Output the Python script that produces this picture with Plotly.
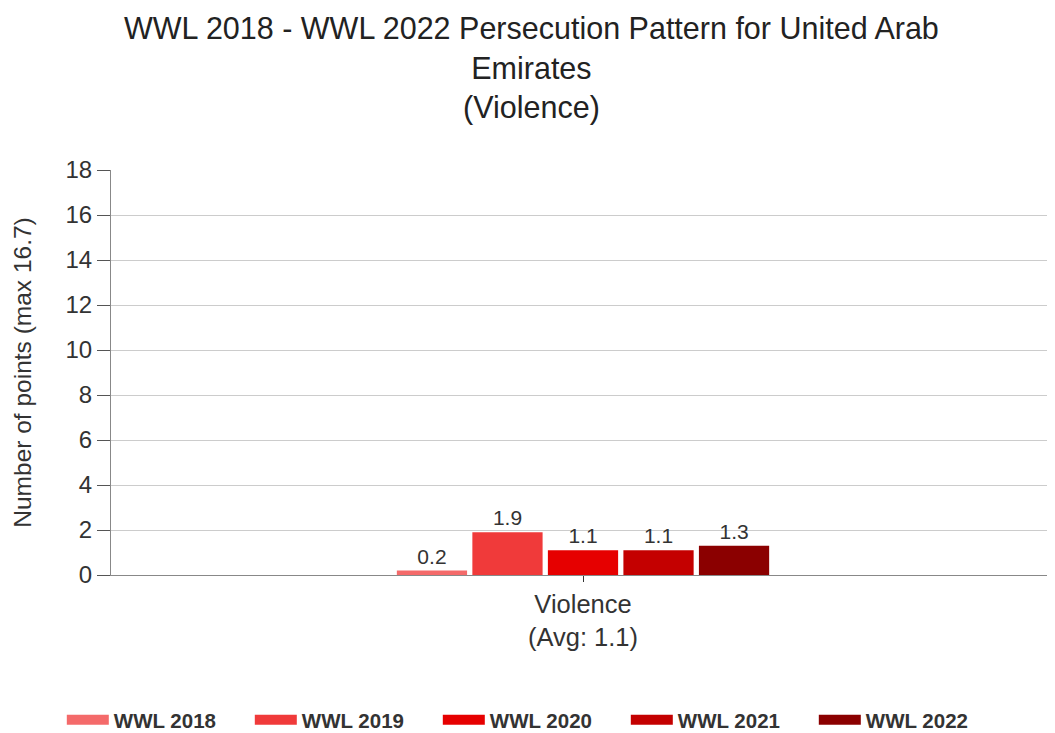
import plotly.graph_objects as go

categories = ["Violence<br>(Avg: 1.1)"]
series_names = ["WWL 2018", "WWL 2019", "WWL 2020", "WWL 2021", "WWL 2022"]
series_values = [[0.2], [1.9], [1.1], [1.1], [1.3]]
colors = ["#F46A6A", "#F03A3A", "#E60000", "#C40000", "#8B0000"]
y_ticks = [0, 2, 4, 6, 8, 10, 12, 14, 16, 18]
title_text = "WWL 2018 - WWL 2022 Persecution Pattern for United Arab<br>Emirates<br>(Violence)"

FONT = "Liberation Sans, Arial, sans-serif"

fig = go.Figure()
for name, vals, col in zip(series_names, series_values, colors):
    fig.add_trace(go.Bar(
        x=categories, y=vals, name=name, marker_color=col,
        marker_line_width=0, showlegend=False, legendgroup=name,
        text=[f"{v:.1f}" for v in vals], textposition="outside",
        textfont=dict(size=21, color="#333333", family=FONT),
        cliponaxis=False,
    ))
# legend entries drawn as wide rectangles
for name, col in zip(series_names, colors):
    fig.add_trace(go.Scatter(
        x=[None], y=[None], mode="lines", name=f"<b>{name}</b>", legendgroup=name,
        line=dict(color=col, width=12), showlegend=True,
    ))

fig.add_annotation(
    text=title_text, xref="paper", yref="paper", x=0.445, y=1.253,
    xanchor="center", yanchor="middle", showarrow=False,
    font=dict(size=30.5, color="#222222", family=FONT),
)

fig.update_layout(
    width=1055, height=733,
    paper_bgcolor="white", plot_bgcolor="white",
    font=dict(family=FONT, color="#222222"),
    margin=dict(l=103, r=8, t=162, b=166, autoexpand=False),
    barmode="group", bargap=0.6, bargroupgap=0.07,
    showlegend=True,
    legend=dict(orientation="h", xref="container", yref="container",
                x=0.051, xanchor="left", y=0.0287, yanchor="middle",
                font=dict(size=20.5, color="#333333", family=FONT),
                itemwidth=42, entrywidth=131, entrywidthmode="pixels",
                traceorder="normal"),
    xaxis=dict(
        automargin=False,
        showline=True, linecolor="#888888", linewidth=1,
        ticks="outside", ticklen=6, tickcolor="#333333",
        tickfont=dict(size=25.5, color="#333333"),
    ),
    yaxis=dict(
        automargin=False,
        range=[0, 18], tickvals=y_ticks, showgrid=True, gridcolor="#CCCCCC",
        showline=True, linecolor="#888888", linewidth=1,
        ticks="outside", ticklen=13, tickcolor="#555555",
        tickfont=dict(size=24, color="#333333"),
        title=dict(text="Number of points (max 16.7)", font=dict(size=24.5, color="#333333"), standoff=26),
        zeroline=False,
    ),
)

fig.write_html("out.html")
